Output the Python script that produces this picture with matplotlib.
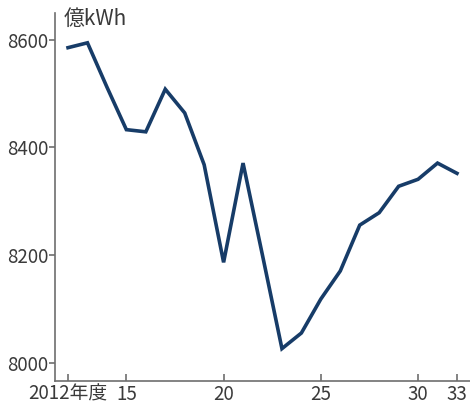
import matplotlib
matplotlib.use("Agg")
from matplotlib import pyplot as plt

plt.rcParams['font.family'] = ['Noto Sans CJK JP', 'DejaVu Sans']

# fiscal years and demand (億kWh)
years = list(range(2012, 2033))
demand = [8585, 8594, 8512, 8433, 8429, 8508, 8464, 8368, 8187, 8371, 8200,
          8027, 8056, 8119, 8171, 8256, 8279, 8328, 8341, 8371, 8352]

xtick_pos = [2012, 2015, 2020, 2025, 2030, 2032]
xtick_labels = ["2012年度", "15", "20", "25", "30", "33"]
ytick_pos = [8000, 8200, 8400, 8600]
unit_label = "億kWh"

txt_color = '#3a3a3a'
axis_color = '#6e6e6e'

fig = plt.figure(figsize=(4.7, 4.11), dpi=100)
ax = fig.add_axes([0.117, 0.073, 0.883, 0.895])

ax.plot(years, demand, color='#173c68', linewidth=2.6, solid_joinstyle='miter')

ax.set_xlim(2011.33, 2032.67)
ax.set_ylim(7967, 8649)

ax.set_xticks(xtick_pos)
ax.set_xticklabels(xtick_labels)
ax.set_yticks(ytick_pos)
ax.set_yticklabels([str(v) for v in ytick_pos])

for side in ['top', 'right']:
    ax.spines[side].set_visible(False)
for side in ['left', 'bottom']:
    ax.spines[side].set_color(axis_color)
    ax.spines[side].set_linewidth(1.2)

ax.tick_params(axis='x', direction='in', length=5, width=1.2, color=axis_color,
               labelsize=13.5, labelcolor=txt_color, pad=2)
ax.tick_params(axis='y', direction='out', length=4, width=1.2, color=axis_color,
               labelsize=13.5, labelcolor=txt_color, pad=1)

fig.text(64 / 470, 1 - 19 / 411, unit_label, fontsize=15, color=txt_color,
         ha='left', va='center')

fig.savefig("out.png", dpi=100)
